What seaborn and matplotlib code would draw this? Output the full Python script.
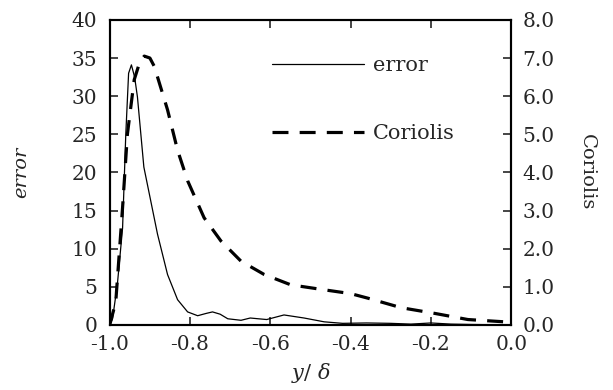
import pandas as pd
import matplotlib
matplotlib.use('Agg')
import matplotlib.pyplot as plt
import seaborn as sns

# error curve (left axis)
err_x = [-1.0, -0.993, -0.981, -0.968, -0.96, -0.953, -0.946, -0.938, -0.931, -0.915,
         -0.898, -0.881, -0.856, -0.831, -0.806, -0.781, -0.76, -0.744, -0.725, -0.706,
         -0.673, -0.65, -0.63, -0.609, -0.566, -0.516, -0.466, -0.42, -0.36, -0.3,
         -0.25, -0.2, -0.15, -0.1, -0.05, 0.0]
err_y = [0, 0.8, 5.3, 12.7, 25, 33, 34.1, 32.5, 29.9, 20.7,
         16.3, 11.9, 6.6, 3.3, 1.7, 1.2, 1.5, 1.7, 1.4, 0.8,
         0.6, 0.9, 0.8, 0.7, 1.3, 0.9, 0.4, 0.2, 0.25, 0.2,
         0.1, 0.25, 0.1, 0.05, 0.02, 0]

# Coriolis curve (right axis)
cor_x = [-1.0, -0.985, -0.968, -0.956, -0.939, -0.925, -0.914, -0.9, -0.889, -0.856,
         -0.831, -0.806, -0.765, -0.723, -0.673, -0.615, -0.549, -0.466, -0.4, -0.357,
         -0.274, -0.19, -0.108, -0.017]
cor_y = [0, 0.6, 3.08, 5.0, 6.43, 6.9, 7.05, 7.0, 6.78, 5.64,
         4.58, 3.78, 2.81, 2.2, 1.67, 1.32, 1.05, 0.92, 0.82, 0.70,
         0.45, 0.30, 0.14, 0.08]

x_ticks = [-1.0, -0.8, -0.6, -0.4, -0.2, 0.0]
x_labels = ['-1.0', '-0.8', '-0.6', '-0.4', '-0.2', '0.0']
left_ticks = [0, 5, 10, 15, 20, 25, 30, 35, 40]
right_ticks = [0, 1, 2, 3, 4, 5, 6, 7, 8]
right_labels = ['0.0', '1.0', '2.0', '3.0', '4.0', '5.0', '6.0', '7.0', '8.0']

sns.set_style('ticks')
plt.rcParams['font.family'] = ['DejaVu Serif']
plt.rcParams['mathtext.fontset'] = 'dejavuserif'

err_df = pd.DataFrame({'x': err_x, 'v': err_y})
cor_df = pd.DataFrame({'x': cor_x, 'v': cor_y})

fig = plt.figure(figsize=(6.13, 3.9), dpi=100)
ax = fig.add_axes([0.179, 0.167, 0.655, 0.782])
ax2 = ax.twinx()

sns.lineplot(data=err_df, x='x', y='v', ax=ax, color='black', linewidth=0.9, label='error', legend=False)
sns.lineplot(data=cor_df, x='x', y='v', ax=ax2, color='black', linewidth=2.3,
             dashes=False, label='Coriolis', legend=False)
ax2.lines[0].set_dashes([5, 3.5])

ax.set_xlim(-1.0, 0.0)
ax.set_ylim(0, 40)
ax2.set_ylim(0, 8)
ax.set_xticks(x_ticks)
ax.set_xticklabels(x_labels, fontsize=14.5)
ax.set_yticks(left_ticks)
ax.set_yticklabels([str(t) for t in left_ticks], fontsize=14.5)
ax2.set_yticks(right_ticks)
ax2.set_yticklabels(right_labels, fontsize=14.5)

ax.tick_params(axis='x', direction='in', top=True, length=6, width=1.2, pad=7)
ax.tick_params(axis='y', direction='in', length=6, width=1.2, pad=9)
ax2.tick_params(axis='y', direction='in', length=6, width=1.2, pad=8)
for a in (ax, ax2):
    for s in a.spines.values():
        s.set_visible(True)
        s.set_linewidth(1.5)
        s.set_color('black')

ax.set_xlabel(r'$y$/ $\delta$', fontsize=15, labelpad=5)
ax.set_ylabel('error', fontsize=14, style='italic', labelpad=30)
ax2.set_ylabel('Coriolis', fontsize=14, rotation=270, labelpad=30)

handles = [ax.lines[0], ax2.lines[0]]
ax.legend(handles, ['error', 'Coriolis'], loc='upper left', bbox_to_anchor=(0.404, 0.88),
          frameon=False, fontsize=15, handlelength=4.4, labelspacing=2.35, handletextpad=0.45,
          borderpad=0, borderaxespad=0)

plt.savefig('out.png', dpi=100)
